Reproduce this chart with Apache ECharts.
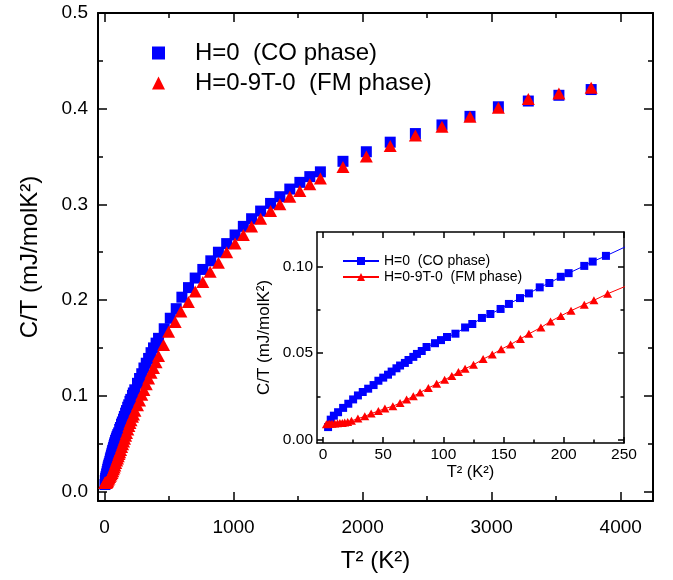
<!DOCTYPE html>
<html><head><meta charset="utf-8">
<script src="https://cdn.jsdelivr.net/npm/echarts@6/dist/echarts.min.js"></script>
<style>html,body{margin:0;padding:0;background:#fff}#c{width:673px;height:580px}</style>
</head><body><div id="c"></div>
<script>
const seriesNames = ['H=0  (CO phase)', 'H=0-9T-0  (FM phase)'];
const xTitle = 'T\u00B2 (K\u00B2)';
const yTitle = 'C/T (mJ/molK\u00B2)';

const blueT2 = [4.2, 6.4, 9, 12.5, 16.7, 21, 25, 29, 33, 37.5, 42, 46, 50, 54, 57, 61, 64, 68, 71, 75, 78, 82, 86, 93, 98, 103, 110, 118, 124, 132, 139, 147.5, 154.4, 163.6, 171, 180, 188, 197.5, 204, 217, 224, 235,
  256, 272, 289, 306, 324, 342, 361, 380, 400, 419, 463, 510, 556, 600, 651, 703, 762, 824, 883, 947, 1012, 1076, 1140, 1210, 1287, 1359, 1436, 1514, 1591, 1673,
  1848, 2029, 2214, 2409, 2615, 2832, 3052, 3284, 3521, 3771];
const blueCT = [0.0072, 0.0115, 0.0138, 0.0158, 0.0183, 0.0207, 0.0232, 0.0255, 0.0275, 0.0294, 0.0315, 0.0340, 0.0358, 0.0375, 0.0393, 0.0412, 0.0428, 0.0443, 0.0460, 0.0478, 0.0495, 0.0512, 0.0535, 0.0557, 0.0575, 0.0593, 0.0612, 0.0648, 0.0668, 0.0703, 0.0726, 0.0755, 0.0784, 0.0818, 0.0845, 0.0880, 0.0905, 0.0941, 0.0962, 0.1004, 0.1029, 0.1062,
  0.113, 0.118, 0.123, 0.129, 0.134, 0.139, 0.145, 0.150, 0.155, 0.160, 0.170, 0.181, 0.191, 0.203, 0.213, 0.223, 0.232, 0.241, 0.250, 0.259, 0.268, 0.277, 0.285, 0.293, 0.301, 0.308, 0.316, 0.323, 0.329, 0.334,
  0.345, 0.355, 0.365, 0.374, 0.383, 0.392, 0.402, 0.408, 0.414, 0.420];

const redT2 = [2.8, 4.2, 5.6, 7.5, 9.7, 12, 14, 16, 18, 20.5, 23.6, 29, 34.7, 40, 46, 51.4, 58, 64, 69.4, 75, 80.6, 87.5, 94.4, 101, 107, 112.5, 118, 125, 133, 140.6, 148, 155.8, 164, 171, 181, 189, 197.5, 206, 217, 225, 236.4,
  256, 272, 289, 306, 324, 342, 361, 380, 400, 419, 458, 497, 548, 592, 650, 703, 762, 819, 883, 947, 1012, 1076, 1140, 1210, 1287, 1359, 1436, 1514, 1591, 1673,
  1848, 2029, 2214, 2409, 2615, 2832, 3052, 3284, 3521, 3771];
const redCT = [0.0088, 0.0090, 0.0091, 0.0092, 0.0093, 0.0094, 0.0095, 0.0096, 0.0098, 0.0102, 0.0108, 0.0121, 0.0134, 0.0150, 0.0165, 0.0179, 0.0193, 0.0211, 0.0231, 0.0250, 0.0272, 0.0298, 0.0322, 0.0345, 0.0368, 0.0390, 0.0410, 0.0432, 0.0465, 0.0492, 0.0522, 0.0550, 0.0582, 0.0611, 0.0648, 0.0683, 0.0715, 0.0745, 0.0780, 0.0805, 0.0843,
  0.090, 0.095, 0.101, 0.106, 0.112, 0.118, 0.124, 0.129, 0.135, 0.1415, 0.153, 0.167, 0.177, 0.188, 0.198, 0.209, 0.219, 0.2296, 0.239, 0.250, 0.259, 0.268, 0.277, 0.285, 0.293, 0.300, 0.308, 0.314, 0.321, 0.327,
  0.339, 0.350, 0.361, 0.372, 0.381, 0.3915, 0.401, 0.410, 0.416, 0.422];

const mainXMajor = [0, 1000, 2000, 3000, 4000];
const mainXMinor = [500, 1500, 2500, 3500];
const mainYMajor = [0, 0.1, 0.2, 0.3, 0.4, 0.5];
const mainYMinor = [0.05, 0.15, 0.25, 0.35, 0.45];
const insetXMajor = [0, 50, 100, 150, 200, 250];
const insetXMinor = [25, 75, 125, 175, 225];
const insetYMajor = [0, 0.05, 0.10];
const insetYMinor = [0.025, 0.075];

const FONT = 'Liberation Sans, Arial, sans-serif';
const BLUE = '#0000ff', RED = '#ff0000';

function zip(a, b) { return a.map((v, i) => [v, b[i]]); }

function ax(gridIndex, position, min, max, ticks, tickLen, showLine, lineW, extra) {
  return Object.assign({
    type: 'value', gridIndex: gridIndex, position: position, min: min, max: max,
    axisLine: { show: showLine, onZero: false, lineStyle: { color: '#000', width: lineW } },
    axisTick: { show: true, inside: true, length: tickLen, customValues: ticks, lineStyle: { color: '#000', width: 1.5 } },
    axisLabel: { show: false },
    splitLine: { show: false },
    minorTick: { show: false }
  }, extra || {});
}

const M = { xmin: -50, xmax: 4250, ymin: -0.01, ymax: 0.5 };
const I = { xmin: -5, xmax: 250, ymin: -0.002, ymax: 0.12 };

const xAxis = [
  ax(0, 'bottom', M.xmin, M.xmax, mainXMajor, 9, true, 2, {
    axisLabel: { show: true, customValues: mainXMajor, fontSize: 19, color: '#000', fontFamily: FONT, margin: 17, formatter: v => String(v) },
    name: xTitle, nameLocation: 'middle', nameGap: 48,
    nameTextStyle: { fontSize: 24, color: '#000', fontFamily: FONT }
  }),
  ax(0, 'bottom', M.xmin, M.xmax, mainXMinor, 5, false, 2),
  ax(0, 'top', M.xmin, M.xmax, mainXMajor, 9, true, 2),
  ax(0, 'top', M.xmin, M.xmax, mainXMinor, 5, false, 2),
  ax(1, 'bottom', I.xmin, I.xmax, insetXMajor, 6, true, 1.5, {
    axisLabel: { show: true, customValues: insetXMajor, fontSize: 15.5, color: '#000', fontFamily: FONT, margin: 4, formatter: v => String(v) },
    name: xTitle, nameLocation: 'middle', nameGap: 21,
    nameTextStyle: { fontSize: 16.5, color: '#000', fontFamily: FONT }
  }),
  ax(1, 'bottom', I.xmin, I.xmax, insetXMinor, 3.5, false, 1.5),
  ax(1, 'top', I.xmin, I.xmax, insetXMajor, 6, true, 1.5),
  ax(1, 'top', I.xmin, I.xmax, insetXMinor, 3.5, false, 1.5)
];
const yAxis = [
  ax(0, 'left', M.ymin, M.ymax, mainYMajor, 9, true, 2, {
    axisLabel: { show: true, customValues: mainYMajor, fontSize: 19, color: '#000', fontFamily: FONT, margin: 10, formatter: v => v.toFixed(1) },
    name: yTitle, nameLocation: 'middle', nameGap: 56, nameRotate: 90,
    nameTextStyle: { fontSize: 24, color: '#000', fontFamily: FONT }
  }),
  ax(0, 'left', M.ymin, M.ymax, mainYMinor, 5, false, 2),
  ax(0, 'right', M.ymin, M.ymax, mainYMajor, 9, true, 2),
  ax(0, 'right', M.ymin, M.ymax, mainYMinor, 5, false, 2),
  ax(1, 'left', I.ymin, I.ymax, insetYMajor, 6, true, 1.5, {
    axisLabel: { show: true, customValues: insetYMajor, fontSize: 15.5, color: '#000', fontFamily: FONT, margin: 4, formatter: v => v.toFixed(2) },
    name: yTitle, nameLocation: 'middle', nameGap: 44, nameRotate: 90,
    nameTextStyle: { fontSize: 17, color: '#000', fontFamily: FONT }
  }),
  ax(1, 'left', I.ymin, I.ymax, insetYMinor, 3.5, false, 1.5),
  ax(1, 'right', I.ymin, I.ymax, insetYMajor, 6, true, 1.5),
  ax(1, 'right', I.ymin, I.ymax, insetYMinor, 3.5, false, 1.5)
];

const chart = echarts.init(document.getElementById('c'), null, { renderer: 'canvas' });
chart.setOption({
  animation: false,
  backgroundColor: '#fff',
  textStyle: { fontFamily: FONT },
  grid: [
    { left: 98, top: 13, right: 20, bottom: 79, containLabel: false },
    { left: 317, top: 232, right: 49, bottom: 137, containLabel: false, show: true, backgroundColor: '#fff', borderWidth: 0 }
  ],
  xAxis: xAxis,
  yAxis: yAxis,
  legend: [
    {
      orient: 'vertical', left: 147, top: 36, itemWidth: 13, itemHeight: 13, itemGap: 6,
      selectedMode: false,
      data: [{ name: seriesNames[0], icon: 'rect', itemStyle: { opacity: 1 } }, { name: seriesNames[1], icon: 'triangle', itemStyle: { opacity: 1 } }],
      formatter: n => '{g|}{t|' + n + '}',
      textStyle: { color: '#000', fontFamily: FONT, fontSize: 24,
        rich: { g: { width: 25 }, t: { fontSize: 24, color: '#000', fontFamily: FONT } } }
    },
    {
      orient: 'vertical', left: 337, top: 249, itemWidth: 36, itemHeight: 10, itemGap: 2,
      selectedMode: false,
      data: ['inset-0', 'inset-1'],
      formatter: n => seriesNames[n === 'inset-0' ? 0 : 1],
      textStyle: { color: '#000', fontFamily: FONT, fontSize: 14 }
    }
  ],
  series: [
    { name: seriesNames[0], type: 'scatter', xAxisIndex: 0, yAxisIndex: 0, symbol: 'rect', symbolSize: 11,
      itemStyle: { color: BLUE, opacity: 1 }, data: zip(blueT2, blueCT) },
    { name: seriesNames[1], type: 'scatter', xAxisIndex: 0, yAxisIndex: 0, symbol: 'triangle', symbolSize: [13, 12],
      itemStyle: { color: RED, opacity: 1 }, data: zip(redT2, redCT) },
    { name: 'inset-0', type: 'line', xAxisIndex: 4, yAxisIndex: 4, symbol: 'rect', symbolSize: 8, showAllSymbol: true, clip: true,
      lineStyle: { color: BLUE, width: 1 }, itemStyle: { color: BLUE }, data: zip(blueT2, blueCT) },
    { name: 'inset-1', type: 'line', xAxisIndex: 4, yAxisIndex: 4, symbol: 'triangle', symbolSize: [9, 8], showAllSymbol: true, clip: true,
      lineStyle: { color: RED, width: 1 }, itemStyle: { color: RED }, data: zip(redT2, redCT) }
  ]
});
</script>
</body></html>
